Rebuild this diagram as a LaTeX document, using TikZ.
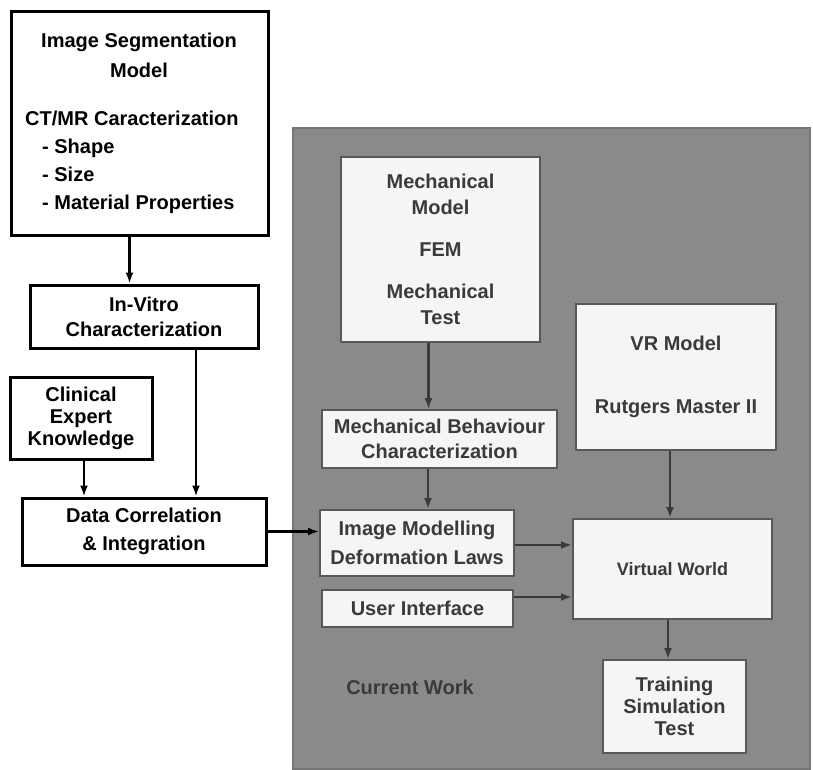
\documentclass[tikz,border=0pt]{standalone}
\usepackage{fontspec}
\setmainfont{Liberation Sans}
\usepackage{xcolor}
\usetikzlibrary{positioning, arrows.meta, calc}

\definecolor{panelgray}{HTML}{8A8A8A}
\definecolor{boxfill}{HTML}{F5F5F5}
\definecolor{inkgray}{HTML}{3A3A3A}

\begin{document}
\begin{tikzpicture}[x=1pt, y=-1pt,
          box/.style={draw, line width=3pt, fill=white, align=center, inner sep=0pt, font=\fontsize{20}{#1}\selectfont\bfseries},
          box/.default=27,
          boxtext/.style={inner sep=0pt, font=\fontsize{20}{#1}\selectfont\bfseries},
          boxtext/.default=28,
          pbox/.style={draw=inkgray!85, line width=2pt, fill=boxfill, text=inkgray, align=center, inner sep=0pt, font=\fontsize{20}{#1}\selectfont\bfseries},
          pbox/.default=27,
          panel/.style={draw=inkgray!70, line width=1.2pt, fill=panelgray, inner sep=0pt},
          arr/.style={-{Latex[length=11pt, width=8pt]}, line width=2.2pt, #1},
          arr/.default=black
        ]
        \useasboundingbox (0,0) rectangle (813,769);
        % left column
        \node[box, minimum width=257pt, minimum height=224pt] (seg) at (139.5,123) {};
        \node[boxtext=30, align=center] (segtitle) at (139,55) {Image Segmentation\\Model};
        \node[boxtext=28, align=left, anchor=north west] (segchar) at (25,110.5) {CT/MR Caracterization\\\hspace*{17pt}- Shape\\\hspace*{17pt}- Size\\\hspace*{17pt}- Material Properties};
        \node[box=25, minimum width=228pt, minimum height=63pt] (invitro) at (144,316.5) {In-Vitro\\Characterization};
        \node[box=22, minimum width=142pt, minimum height=82pt] (clinical) at (81,418) {Clinical\\Expert\\Knowledge};
        \node[box=28, minimum width=244pt, minimum height=67pt] (data) at (144,531.5) {Data Correlation\\\& Integration};
        % current work panel
        \node[panel, minimum width=517pt, minimum height=641pt] (panel) at (551.5,448.5) {};
        \node[pbox=26, minimum width=199pt, minimum height=185pt] (mech) at (440.5,249.5) {Mechanical\\Model\\[16pt]FEM\\[16pt]Mechanical\\Test};
        \node[pbox=25, minimum width=235pt, minimum height=58pt] (behav) at (439.5,439) {Mechanical Behaviour\\Characterization};
        \node[pbox, minimum width=200pt, minimum height=146pt] (vr) at (676,377) {VR Model\\[36pt]Rutgers Master II};
        \node[pbox=29, minimum width=194pt, minimum height=66pt] (immod) at (417,543) {Image Modelling\\Deformation Laws};
        \node[pbox, minimum width=191pt, minimum height=37pt] (ui) at (417.5,608.5) {User Interface};
        \node[pbox, minimum width=199pt, minimum height=100pt, font=\fontsize{18}{22}\selectfont\bfseries] (vw) at (672.5,569) {Virtual World};
        \node[pbox=22, minimum width=143pt, minimum height=93pt] (train) at (674.5,706.5) {Training\\Simulation\\Test};
        \node[boxtext, text=inkgray] (current) at (410,687) {Current Work};
        % connectors
        \draw[arr] ([xshift=-10pt]seg.south) -- ([xshift=-10pt]seg.south |- invitro.north);
        \draw[arr] ([xshift=52pt]invitro.south) -- ([xshift=52pt]invitro.south |- data.north);
        \draw[arr] ([xshift=3pt]clinical.south) -- ([xshift=3pt]clinical.south |- data.north);
        \draw[arr] (data.east) -- (data.east -| immod.west);
        \draw[arr=inkgray] ([xshift=-12pt]mech.south) -- ([xshift=-12pt]mech.south |- behav.north);
        \draw[arr=inkgray] ([xshift=-11.5pt]behav.south) -- ([xshift=-11.5pt]behav.south |- immod.north);
        \draw[arr=inkgray] ([xshift=-6pt]vr.south) -- ([xshift=-6pt]vr.south |- vw.north);
        \draw[arr=inkgray] ([yshift=-2pt]immod.east) -- ([yshift=-2pt]immod.east -| vw.west);
        \draw[arr=inkgray] ([yshift=11.5pt]ui.east) -- ([yshift=11.5pt]ui.east -| vw.west);
        \draw[arr=inkgray] ([xshift=-4.5pt]vw.south) -- ([xshift=-4.5pt]vw.south |- train.north);
        \end{tikzpicture}
\end{document}
